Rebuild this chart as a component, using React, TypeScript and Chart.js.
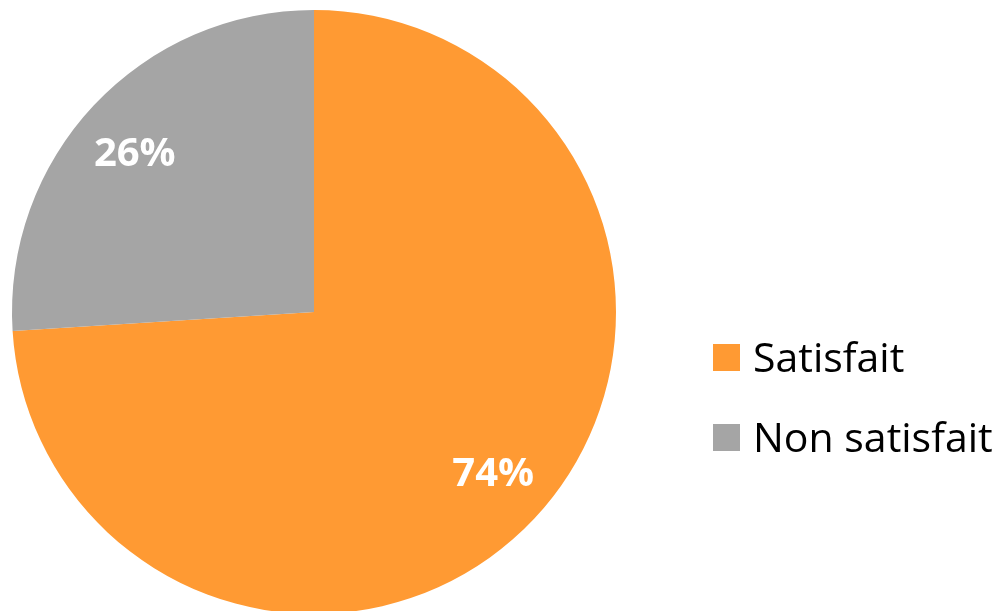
import React, { useEffect, useRef } from "react";
import { Chart, registerables } from "chart.js";

Chart.register(...registerables);

const categories = ["Satisfait", "Non satisfait"];
const values = [74, 26];
const valueLabels = ["74%", "26%"];
const colors = ["#FF9A33", "#A5A5A5"];

const labelPlugin = {
  id: "sliceLabels",
  afterDatasetsDraw(chart: any) {
    const ctx = chart.ctx;
    const meta = chart.getDatasetMeta(0);
    ctx.save();
    ctx.fillStyle = "#FFFFFF";
    ctx.font = "bold 40px 'Open Sans'";
    ctx.textAlign = "center";
    ctx.textBaseline = "alphabetic";
    meta.data.forEach((arc: any, i: number) => {
      const { x, y, startAngle, endAngle, outerRadius } = arc.getProps(
        ["x", "y", "startAngle", "endAngle", "outerRadius"],
        true
      );
      const mid = (startAngle + endAngle) / 2 - 0.026;
      const r = outerRadius * 0.795;
      const px = x + Math.cos(mid) * r;
      const py = y + Math.sin(mid) * r;
      ctx.fillText(valueLabels[i], px, py + 14);
    });
    ctx.restore();
  },
};

const legendPlugin = {
  id: "customLegend",
  afterDraw(chart: any) {
    const ctx = chart.ctx;
    ctx.save();
    const boxX = 713;
    const boxSize = 27;
    const firstTop = 344;
    const rowGap = 80;
    ctx.font = "41px 'Open Sans'";
    ctx.textAlign = "left";
    ctx.textBaseline = "alphabetic";
    categories.forEach((c, i) => {
      const top = firstTop + i * rowGap;
      ctx.fillStyle = colors[i];
      ctx.fillRect(boxX, top, boxSize, boxSize);
      ctx.fillStyle = "#000000";
      ctx.fillText(c, boxX + 40, top + 28);
    });
    ctx.restore();
  },
};

export default function App() {
  const ref = useRef<HTMLCanvasElement | null>(null);
  useEffect(() => {
    if (!ref.current) return;
    const chart = new Chart(ref.current, {
      type: "pie",
      data: {
        labels: categories,
        datasets: [
          {
            data: values,
            backgroundColor: colors,
            borderWidth: 0,
          },
        ],
      },
      options: {
        animation: false,
        responsive: true,
        maintainAspectRatio: false,
        layout: { padding: { left: 12, right: 384, top: 10, bottom: 10 } },
        plugins: {
          legend: { display: false },
          tooltip: { enabled: false },
        },
      },
      plugins: [labelPlugin, legendPlugin],
    });
    return () => chart.destroy();
  }, []);
  return (
    <div
      style={{
        position: "absolute",
        left: 0,
        top: 0,
        width: 1000,
        height: 611,
        overflow: "hidden",
        background: "#fff",
      }}
    >
      <div style={{ position: "relative", width: 1000, height: 624 }}>
        <canvas ref={ref} />
      </div>
    </div>
  );
}
